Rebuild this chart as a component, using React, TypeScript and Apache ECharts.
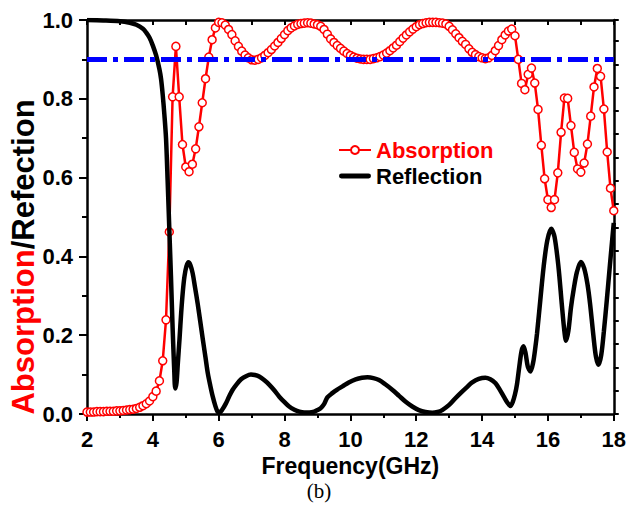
import React, { useEffect, useRef } from "react";
import * as echarts from "echarts";

// Absorption sampled every 0.1 GHz from 2.0 to 18.0 GHz
const absStartGHz = 2;
const absStepGHz = 0.1;
const absorption = [
  0.005, 0.005, 0.005, 0.006, 0.006, 0.006, 0.007, 0.007, 0.007, 0.008,
  0.008, 0.009, 0.010, 0.011, 0.012, 0.014, 0.017, 0.021, 0.026, 0.033,
  0.044, 0.058, 0.084, 0.135, 0.239, 0.462, 0.805, 0.933, 0.805, 0.684,
  0.627, 0.615, 0.634, 0.673, 0.729, 0.790, 0.851, 0.906, 0.950, 0.980,
  0.994, 0.993, 0.987, 0.976, 0.963, 0.947, 0.933, 0.921, 0.911, 0.904,
  0.899, 0.898, 0.900, 0.904, 0.910, 0.917, 0.925, 0.934, 0.943, 0.953,
  0.963, 0.973, 0.980, 0.985, 0.989, 0.991, 0.992, 0.993, 0.992, 0.990,
  0.988, 0.984, 0.976, 0.964, 0.952, 0.943, 0.935, 0.928, 0.921, 0.915,
  0.910, 0.906, 0.903, 0.901, 0.900, 0.900, 0.900, 0.902, 0.904, 0.907,
  0.911, 0.916, 0.922, 0.929, 0.936, 0.945, 0.954, 0.962, 0.970, 0.977,
  0.983, 0.988, 0.991, 0.993, 0.994, 0.994, 0.994, 0.993, 0.992, 0.990,
  0.984, 0.975, 0.965, 0.955, 0.946, 0.938, 0.927, 0.918, 0.912, 0.907,
  0.904, 0.902, 0.904, 0.910, 0.922, 0.935, 0.950, 0.962, 0.972, 0.977,
  0.960, 0.900, 0.839, 0.823, 0.862, 0.878, 0.840, 0.773, 0.682, 0.597,
  0.544, 0.524, 0.544, 0.612, 0.715, 0.802, 0.801, 0.732, 0.664, 0.622,
  0.614, 0.637, 0.685, 0.756, 0.830, 0.877, 0.857, 0.774, 0.665, 0.573,
  0.516,
];

const reflFreq = [
  2.0, 2.5, 3.0, 3.3, 3.5, 3.7, 3.8, 3.9, 4.0, 4.1, 4.2, 4.25, 4.3, 4.35, 4.4,
  4.45, 4.5, 4.55, 4.6, 4.65, 4.68, 4.72, 4.76, 4.81, 4.86, 4.91, 4.96, 5.02,
  5.08, 5.14, 5.21, 5.28, 5.36, 5.44, 5.52, 5.6, 5.67, 5.75, 5.82, 5.9, 5.96,
  6.02, 6.1, 6.22, 6.32, 6.42, 6.55, 6.68, 6.83, 6.98, 7.1, 7.23, 7.38, 7.54,
  7.7, 7.84, 8.0, 8.14, 8.3, 8.45, 8.6, 8.75, 8.9, 9.0, 9.1, 9.2, 9.3, 9.45,
  9.6, 9.76, 9.95, 10.16, 10.35, 10.52, 10.7, 10.87, 11.05, 11.28, 11.48,
  11.68, 11.88, 12.08, 12.28, 12.49, 12.65, 12.79, 13.0, 13.19, 13.37, 13.55,
  13.7, 13.9, 14.1, 14.25, 14.41, 14.55, 14.66, 14.76, 14.86, 14.93, 15.0,
  15.06, 15.13, 15.2, 15.26, 15.32, 15.39, 15.47, 15.55, 15.62, 15.67, 15.77,
  15.87, 15.98, 16.1, 16.2, 16.32, 16.42, 16.5, 16.55, 16.62, 16.7, 16.78,
  16.88, 17.0, 17.1, 17.2, 17.28, 17.38, 17.46, 17.54, 17.62, 17.7, 17.79,
  17.88, 17.95, 18.0,
];
const reflValue = [
  1.0, 0.999, 0.997, 0.993, 0.988, 0.978, 0.968, 0.955, 0.935, 0.91, 0.875,
  0.85, 0.81, 0.76, 0.7, 0.59, 0.47, 0.35, 0.22, 0.11, 0.065, 0.08, 0.13, 0.19,
  0.256, 0.31, 0.349, 0.375, 0.385, 0.378, 0.357, 0.322, 0.281, 0.235, 0.188,
  0.143, 0.103, 0.07, 0.044, 0.02, 0.007, 0.003, 0.01, 0.027, 0.045, 0.061,
  0.076, 0.088, 0.096, 0.1, 0.099, 0.095, 0.086, 0.074, 0.059, 0.044, 0.03,
  0.019, 0.011, 0.006, 0.004, 0.004, 0.006, 0.01, 0.015, 0.025, 0.042, 0.053,
  0.062, 0.07, 0.08, 0.088, 0.092, 0.093, 0.091, 0.086, 0.076, 0.061, 0.046,
  0.031, 0.019, 0.01, 0.005, 0.003, 0.005, 0.01, 0.023, 0.04, 0.055, 0.069,
  0.08, 0.089, 0.092, 0.088, 0.078, 0.06, 0.044, 0.03, 0.02, 0.03, 0.05,
  0.075, 0.12, 0.16, 0.172, 0.155, 0.12, 0.108, 0.13, 0.17, 0.205, 0.29,
  0.374, 0.44, 0.47, 0.45, 0.374, 0.28, 0.21, 0.186, 0.21, 0.27, 0.315, 0.36,
  0.386, 0.37, 0.33, 0.28, 0.2, 0.145, 0.125, 0.15, 0.21, 0.29, 0.375, 0.44,
  0.485,
];

const thresholdLevel = 0.9;
const xRange = [2, 18];

const FONT = "'Liberation Sans', Arial, Helvetica, sans-serif";

export default function App() {
  const ref = useRef<HTMLDivElement>(null);

  useEffect(() => {
    document.body.style.margin = "0";
    const chart = echarts.init(ref.current!, null, { renderer: "svg" });

    const absData = absorption.map((v, i) => [
      +(absStartGHz + i * absStepGHz).toFixed(2),
      v,
    ]);
    const reflData = reflFreq.map((f, i) => [f, reflValue[i]]);

    const axisLine = { show: true, onZero: false, lineStyle: { color: "#000", width: 2.5 } };
    const tickStyle = { color: "#000", width: 2 };
    const labelStyle = {
      fontFamily: FONT,
      fontWeight: "bold",
      fontSize: 22,
      color: "#000",
    };

    chart.setOption({
      animation: false,
      grid: { left: 87, right: 14, top: 20, bottom: 98 },
      xAxis: [
        {
          type: "value",
          min: xRange[0],
          max: xRange[1],
          interval: 2,
          position: "bottom",
          name: "Frequency(GHz)",
          nameLocation: "middle",
          nameGap: 39,
          nameTextStyle: { ...labelStyle, fontSize: 23 },
          axisLine,
          axisTick: { show: true, inside: false, length: 7, lineStyle: tickStyle },
          minorTick: { show: true, splitNumber: 2, length: 4, lineStyle: tickStyle },
          axisLabel: { ...labelStyle, margin: 14 },
          splitLine: { show: false },
          minorSplitLine: { show: false },
        },
        {
          type: "value",
          min: xRange[0],
          max: xRange[1],
          interval: 1,
          position: "top",
          axisLine,
          axisTick: { show: true, inside: true, length: 5, lineStyle: tickStyle },
          axisLabel: { show: false },
          splitLine: { show: false },
        },
      ],
      yAxis: [
        {
          type: "value",
          min: 0,
          max: 1,
          interval: 0.2,
          position: "left",
          axisLine,
          axisTick: { show: true, inside: false, length: 8, lineStyle: tickStyle },
          minorTick: { show: true, splitNumber: 2, length: 5, lineStyle: tickStyle },
          axisLabel: {
            ...labelStyle,
            margin: 14,
            formatter: (v: number) => v.toFixed(1),
          },
          splitLine: { show: false },
          minorSplitLine: { show: false },
        },
        {
          type: "value",
          min: 0,
          max: 16.9,
          interval: 1,
          position: "right",
          axisLine,
          axisTick: { show: true, inside: false, length: 5, lineStyle: tickStyle },
          axisLabel: { show: false },
          splitLine: { show: false },
        },
      ],
      legend: {
        orient: "vertical",
        left: 338,
        top: 139,
        padding: 0,
        itemWidth: 32,
        itemHeight: 10,
        itemGap: 4,
        textStyle: { fontFamily: FONT, fontWeight: "bold", fontSize: 22 },
        data: [
          { name: "Absorption", textStyle: { color: "#ff0000" } },
          {
            name: "Reflection",
            icon: "path://M2,0L30,0A2.5,2.5,0,0,1,30,5L2,5A2.5,2.5,0,0,1,2,0Z",
            textStyle: { color: "#000000" },
          },
        ],
      },
      series: [
        {
          name: "Absorption",
          type: "line",
          xAxisIndex: 0,
          yAxisIndex: 0,
          data: absData,
          symbol: "circle",
          symbolSize: 8,
          lineStyle: { color: "#ff0000", width: 2.5 },
          itemStyle: { color: "#ffffff", borderColor: "#ff0000", borderWidth: 1.5 },
          z: 2,
        },
        {
          name: "Reflection",
          type: "line",
          xAxisIndex: 0,
          yAxisIndex: 0,
          data: reflData,
          smooth: 0.3,
          symbol: "none",
          lineStyle: { color: "#000000", width: 4.5 },
          itemStyle: { color: "#000000" },
          z: 3,
        },
        {
          name: "Threshold",
          type: "line",
          xAxisIndex: 0,
          yAxisIndex: 0,
          data: [
            [xRange[0], thresholdLevel],
            [xRange[1], thresholdLevel],
          ],
          symbol: "none",
          lineStyle: { color: "#0000ff", width: 5, type: [20, 6, 5, 6] },
          z: 4,
        },
      ],
      graphic: [
        {
          type: "text",
          x: 23,
          y: 257,
          rotation: Math.PI / 2,
          style: {
            text: "{a|Absorption}{b|/Refection}",
            align: "center",
            verticalAlign: "middle",
            rich: {
              a: { fill: "#ff0000", fontFamily: FONT, fontWeight: "bold", fontSize: 31 },
              b: { fill: "#000000", fontFamily: FONT, fontWeight: "bold", fontSize: 31 },
            },
          },
        },
        {
          type: "text",
          x: 319,
          y: 491,
          style: {
            text: "(b)",
            align: "center",
            verticalAlign: "middle",
            fill: "#000",
            fontFamily: "'Liberation Serif', 'Times New Roman', serif",
            fontSize: 21,
          },
        },
      ],
    });

    return () => chart.dispose();
  }, []);

  return <div ref={ref} style={{ width: 629, height: 512 }} />;
}
